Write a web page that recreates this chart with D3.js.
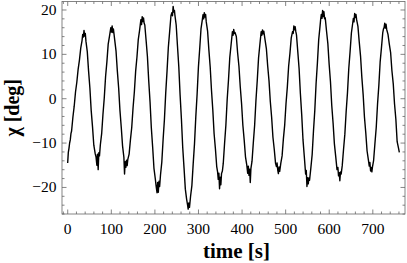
<!DOCTYPE html>
<html>
<head>
<meta charset="utf-8">
<script src="https://cdn.jsdelivr.net/npm/d3@7"></script>
</head>
<body style="margin:0">
<svg id="chart" width="407" height="263"></svg>
<script>
// [time in s, chi in deg]
const chiSeries = [[1,-14.6],[2.5,-12.2],[4,-11.3],[5.5,-10.1],[7,-9.4],[8.5,-8.0],[10,-7.4],[13,-4.3],[16,-1.8],[19,1.4],[22,3.6],[25,6.5],[28,8.6],[31,11.3],[34,13.0],[35.5,14.4],[37,13.8],[38.5,15.3],[40,14.0],[41.5,14.6],[43,12.8],[46,10.5],[49,6.1],[52,2.3],[55,-2.8],[58,-6.4],[61,-10.6],[64,-12.4],[66,-13.2],[68,-15.1],[69.5,-12.6],[71,-16.1],[72.5,-12.3],[74,-13.0],[76,-10.5],[79,-8.0],[82,-3.6],[85,0.1],[88,4.9],[91,8.2],[94,12.2],[97,14.0],[100,15.9],[101.5,14.9],[103,16.3],[104.5,14.8],[106,15.6],[109,13.1],[112,10.6],[115,6.1],[118,2.3],[121,-2.8],[124,-6.6],[127,-10.8],[130,-13.3],[131.5,-17.1],[133,-14.3],[134.5,-15.6],[136,-14.0],[137.5,-15.2],[139,-13.8],[142,-12.6],[145,-9.4],[148,-6.6],[151,-2.2],[154,1.4],[157,6.1],[160,9.3],[163,13.2],[166,15.3],[169,17.7],[170.5,16.6],[172,18.4],[173.5,17.3],[175,18.1],[176.5,16.9],[178,16.5],[181,13.0],[184,9.4],[187,3.9],[190,-0.8],[193,-6.7],[196,-11.0],[199,-15.8],[202,-18.1],[204,-19.8],[206,-21.3],[207.5,-19.0],[209,-21.2],[210.5,-18.7],[212,-19.9],[214,-17.3],[217,-14.4],[220,-9.3],[223,-4.8],[226,1.2],[229,6.1],[232,11.5],[235,15.0],[238,18.6],[240,19.3],[241.5,18.6],[243,20.7],[244.5,19.4],[246,19.8],[247,18.8],[250,16.5],[253,11.7],[256,7.1],[259,0.7],[262,-4.7],[265,-11.1],[268,-15.7],[271,-20.5],[274,-22.8],[276,-24.0],[277.5,-25.0],[279,-23.6],[280.5,-24.6],[283,-22.1],[286,-19.7],[289,-14.8],[292,-10.3],[295,-4.2],[298,0.9],[301,7.0],[304,11.2],[307,15.7],[310,17.7],[311.5,18.8],[313,17.9],[314.5,19.3],[316,18.3],[317.5,18.9],[319,17.2],[322,15.2],[325,10.9],[328,7.1],[331,1.8],[334,-2.6],[337,-8.0],[340,-11.4],[343,-15.4],[345,-16.6],[346.5,-18.3],[348,-16.9],[349.5,-20.4],[351,-17.8],[352.5,-19.5],[354,-17.0],[356,-16.4],[358,-14.7],[361,-10.2],[364,-6.1],[367,-0.3],[370,4.1],[373,9.2],[376,12.1],[379,15.0],[380.5,14.2],[382,15.5],[383.5,14.6],[385,14.8],[388,13.9],[391,10.2],[394,7.2],[397,2.6],[400,-1.2],[403,-6.1],[406,-9.4],[409,-13.2],[412,-15.1],[414,-16.9],[415.5,-15.3],[417,-17.4],[418.5,-16.0],[420,-19.0],[421.5,-15.8],[424,-14.2],[427,-10.0],[430,-6.1],[433,-0.5],[436,4.0],[439,9.1],[442,12.1],[445,15.0],[446.5,14.2],[448,15.4],[449.5,14.5],[451,15.1],[454,13.1],[457,11.1],[460,7.2],[463,3.9],[466,-0.8],[469,-4.3],[472,-8.8],[475,-11.5],[478,-14.7],[480,-15.4],[481.5,-14.6],[483,-16.2],[484.5,-17.0],[486,-15.5],[487.5,-16.5],[490,-14.7],[493,-13.0],[496,-9.1],[499,-6.0],[502,-1.2],[505,2.5],[508,7.2],[511,10.1],[514,13.6],[517,15.0],[518.5,14.6],[520,16.3],[521.5,15.4],[523,16.1],[524.5,15.0],[526,14.3],[529,10.5],[532,6.7],[535,1.0],[538,-3.7],[541,-9.4],[544,-13.2],[547,-17.1],[548.5,-16.3],[550,-19.9],[551.5,-17.9],[553,-19.3],[554.5,-18.0],[556,-18.5],[559,-15.7],[562,-12.7],[565,-7.4],[568,-2.8],[571,3.3],[574,7.9],[577,13.2],[580,16.2],[581.5,17.8],[583,18.9],[584.5,18.0],[586,19.8],[587.5,18.4],[589,19.5],[590.5,17.9],[592,18.1],[595,15.1],[598,12.3],[601,7.6],[604,3.7],[607,-1.7],[610,-5.6],[613,-10.3],[616,-13.1],[619,-16.1],[621,-15.6],[622.5,-17.5],[624,-16.8],[625.5,-18.6],[627,-16.6],[628.5,-17.1],[631,-15.2],[634,-11.5],[637,-8.1],[640,-3.0],[643,1.2],[646,6.7],[649,10.5],[652,14.7],[655,16.9],[656.5,18.0],[658,17.2],[659.5,19.1],[661,18.2],[662.5,18.9],[664,17.7],[667,16.2],[670,12.7],[673,9.5],[676,4.7],[679,0.8],[682,-4.3],[685,-7.8],[688,-11.9],[691,-13.9],[693,-15.3],[694.5,-14.5],[696,-16.4],[697.5,-15.6],[699,-16.6],[700.5,-15.4],[703,-14.0],[706,-10.2],[709,-6.6],[712,-1.3],[715,2.9],[718,8.2],[721,11.4],[724,14.8],[725.5,15.6],[727,15.9],[728.5,16.9],[730,15.8],[731.5,16.7],[733,15.5],[736,14.4],[739,12.2],[742,10.3],[745,6.2],[748,3.3],[751,-1.3],[754,-4.7],[757,-9.8],[760,-11.2],[762,-12.2]];

const xMajorTicks = [0, 100, 200, 300, 400, 500, 600, 700];
const xMinorTicks = [-10, 20, 40, 60, 80, 120, 140, 160, 180, 220, 240, 260, 280, 320, 340, 360, 380, 420, 440, 460, 480, 520, 540, 560, 580, 620, 640, 660, 680, 720, 740, 760];
const yMajorTicks = [-20, -10, 0, 10, 20];
const yMinorTicks = [-26, -24, -22, -18, -16, -14, -12, -8, -6, -4, -2, 2, 4, 6, 8, 12, 14, 16, 18];
const xLabel = "time [s]";
const yLabel = "\u03C7 [deg]";

const FONT = '"Liberation Serif"';
const L = 62, R = 405, T = 1.5, B = 214;
const svg = d3.select("#chart");

const x = d3.scaleLinear().domain([-12, 775]).range([L, R]);
const y = d3.scaleLinear().domain([-26.1, 21.8]).range([B, T]);

const frameColor = "#666";
const fmt = d => d < 0 ? "\u2212" + Math.abs(d) : String(d);

svg.append("clipPath").attr("id", "clip")
  .append("rect").attr("x", L).attr("y", T).attr("width", R - L).attr("height", B - T);

const line = d3.line().x(d => x(d[0])).y(d => y(d[1]));
svg.append("path")
  .datum(chiSeries)
  .attr("clip-path", "url(#clip)")
  .attr("fill", "none")
  .attr("stroke", "#000")
  .attr("stroke-width", 1.4)
  .attr("stroke-linejoin", "round")
  .attr("d", line);

function styleAxis(g) {
  g.attr("font-family", null).attr("font-size", null);
  g.select(".domain").remove();
  g.selectAll("line").attr("stroke", frameColor).attr("stroke-width", 0.8);
}
function styleLabels(g) {
  g.selectAll("text").style("font-family", FONT).attr("font-size", 15.5).attr("fill", "#000");
}

const majLen = 4.5, minLen = 2.5;

svg.append("g").attr("transform", `translate(0,${B})`)
  .call(d3.axisBottom(x).tickValues(xMajorTicks).tickSize(-majLen).tickPadding(majLen + 4).tickFormat(fmt))
  .call(styleAxis).call(styleLabels);
svg.append("g").attr("transform", `translate(0,${B})`)
  .call(d3.axisBottom(x).tickValues(xMinorTicks).tickSize(-minLen).tickFormat(""))
  .call(styleAxis);
svg.append("g").attr("transform", `translate(0,${T})`)
  .call(d3.axisTop(x).tickValues(xMajorTicks).tickSize(-majLen).tickFormat(""))
  .call(styleAxis);
svg.append("g").attr("transform", `translate(0,${T})`)
  .call(d3.axisTop(x).tickValues(xMinorTicks).tickSize(-minLen).tickFormat(""))
  .call(styleAxis);
svg.append("g").attr("transform", `translate(${L},0)`)
  .call(d3.axisLeft(y).tickValues(yMajorTicks).tickSize(-majLen).tickPadding(majLen + 1).tickFormat(fmt))
  .call(styleAxis).call(styleLabels);
svg.append("g").attr("transform", `translate(${L},0)`)
  .call(d3.axisLeft(y).tickValues(yMinorTicks).tickSize(-minLen).tickFormat(""))
  .call(styleAxis);
svg.append("g").attr("transform", `translate(${R},0)`)
  .call(d3.axisRight(y).tickValues(yMajorTicks).tickSize(-majLen).tickFormat(""))
  .call(styleAxis);
svg.append("g").attr("transform", `translate(${R},0)`)
  .call(d3.axisRight(y).tickValues(yMinorTicks).tickSize(-minLen).tickFormat(""))
  .call(styleAxis);

svg.append("rect")
  .attr("x", L).attr("y", T).attr("width", R - L).attr("height", B - T)
  .attr("fill", "none").attr("stroke", frameColor).attr("stroke-width", 0.8);

svg.append("text")
  .attr("x", (L + R) / 2 + 3).attr("y", 258)
  .attr("text-anchor", "middle")
  .style("font-family", FONT).attr("font-size", 21).attr("font-weight", "bold")
  .text(xLabel);
svg.append("text")
  .attr("transform", `translate(19,${(T + B) / 2}) rotate(-90)`)
  .attr("text-anchor", "middle")
  .style("font-family", FONT).attr("font-size", 20).attr("font-weight", "bold")
  .text(yLabel);
</script>
</body>
</html>
